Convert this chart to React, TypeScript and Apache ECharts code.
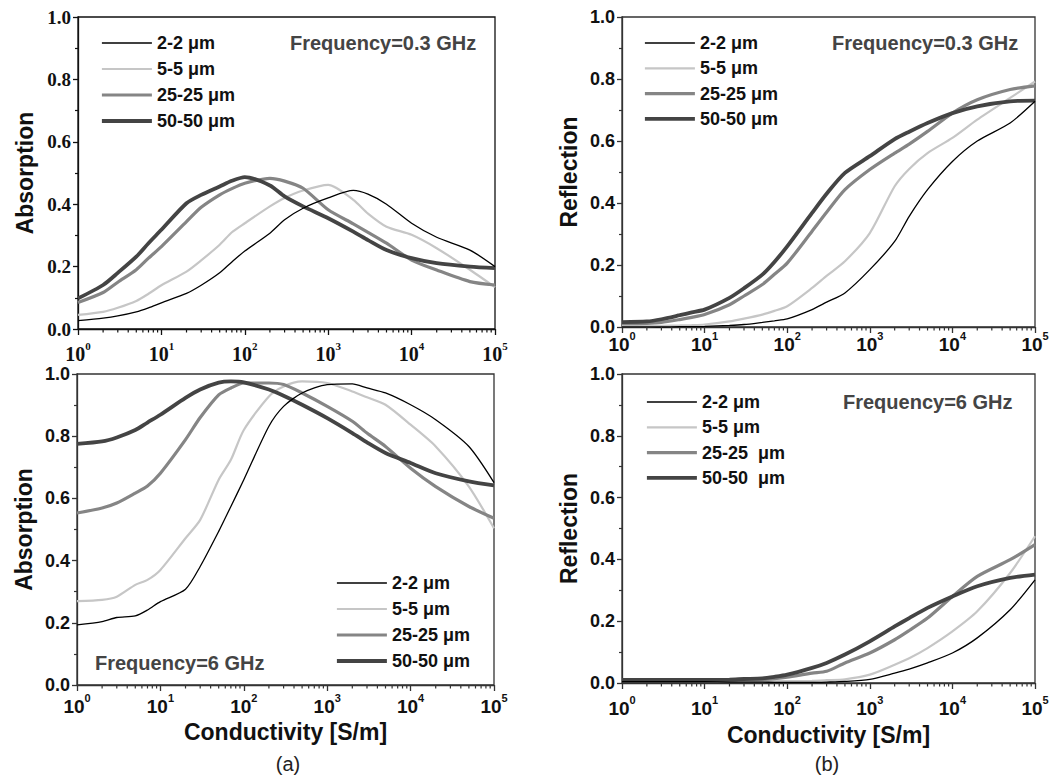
import React, { useEffect, useRef } from "react";
import * as echarts from "echarts";

// Conductivity sample points [S/m]
const X = [1, 2, 3, 5, 7, 10, 20, 30, 50, 70, 100, 200, 300, 500, 1000, 2000, 3000, 5000, 10000, 20000, 50000, 100000];

// Minor tick positions on the log axis
const MINOR_TICKS = [
  2, 3, 4, 5, 6, 7, 8, 9,
  20, 30, 40, 50, 60, 70, 80, 90,
  200, 300, 400, 500, 600, 700, 800, 900,
  2000, 3000, 4000, 5000, 6000, 7000, 8000, 9000,
  20000, 30000, 40000, 50000, 60000, 70000, 80000, 90000,
];

const NAMES = ["2-2 μm", "5-5 μm", "25-25 μm", "50-50 μm"];
const NAMES_BR = ["2-2 μm", "5-5 μm", "25-25  μm", "50-50  μm"];

// (a) top: Absorption, 0.3 GHz
const absA_2 = [0.027, 0.035, 0.042, 0.055, 0.068, 0.084, 0.114, 0.14, 0.18, 0.215, 0.25, 0.307, 0.35, 0.387, 0.42, 0.444, 0.432, 0.4, 0.339, 0.294, 0.253, 0.2];
const absA_5 = [0.045, 0.055, 0.068, 0.09, 0.113, 0.14, 0.184, 0.22, 0.27, 0.31, 0.339, 0.393, 0.42, 0.444, 0.462, 0.414, 0.37, 0.328, 0.302, 0.259, 0.19, 0.134];
const absA_25 = [0.085, 0.117, 0.15, 0.19, 0.227, 0.264, 0.344, 0.39, 0.43, 0.45, 0.467, 0.483, 0.474, 0.451, 0.382, 0.337, 0.31, 0.275, 0.221, 0.189, 0.152, 0.141];
const absA_50 = [0.098, 0.141, 0.18, 0.232, 0.275, 0.318, 0.403, 0.43, 0.457, 0.475, 0.487, 0.46, 0.425, 0.393, 0.355, 0.312, 0.285, 0.253, 0.227, 0.211, 0.2, 0.195];

// (b) top: Reflection, 0.3 GHz
const refA_2 = [0.0, 0.0, 0.0, 0.001, 0.001, 0.002, 0.005, 0.008, 0.015, 0.02, 0.026, 0.056, 0.08, 0.11, 0.185, 0.276, 0.357, 0.443, 0.534, 0.6, 0.658, 0.728];
const refA_5 = [0.003, 0.003, 0.004, 0.005, 0.006, 0.008, 0.018, 0.027, 0.04, 0.052, 0.067, 0.126, 0.165, 0.212, 0.303, 0.454, 0.51, 0.561, 0.61, 0.669, 0.739, 0.792];
const refA_25 = [0.011, 0.012, 0.015, 0.024, 0.031, 0.04, 0.072, 0.1, 0.137, 0.17, 0.206, 0.309, 0.37, 0.443, 0.508, 0.561, 0.59, 0.631, 0.69, 0.733, 0.766, 0.778];
const refA_50 = [0.016, 0.018, 0.025, 0.038, 0.047, 0.056, 0.094, 0.125, 0.169, 0.21, 0.26, 0.368, 0.43, 0.497, 0.551, 0.606, 0.63, 0.658, 0.69, 0.712, 0.728, 0.73];

// (a) bottom: Absorption, 6 GHz
const absB_2 = [0.193, 0.204, 0.217, 0.222, 0.241, 0.268, 0.308, 0.381, 0.494, 0.574, 0.66, 0.832, 0.896, 0.939, 0.966, 0.968, 0.955, 0.939, 0.901, 0.853, 0.767, 0.651];
const absB_5 = [0.27, 0.274, 0.284, 0.322, 0.338, 0.37, 0.472, 0.531, 0.66, 0.724, 0.82, 0.928, 0.96, 0.976, 0.971, 0.944, 0.925, 0.901, 0.837, 0.767, 0.638, 0.504];
const absB_25 = [0.553, 0.569, 0.585, 0.617, 0.64, 0.681, 0.789, 0.86, 0.933, 0.955, 0.971, 0.971, 0.966, 0.939, 0.896, 0.848, 0.81, 0.767, 0.697, 0.638, 0.574, 0.536];
const absB_50 = [0.775, 0.783, 0.796, 0.82, 0.844, 0.869, 0.923, 0.95, 0.972, 0.976, 0.973, 0.95, 0.93, 0.901, 0.858, 0.81, 0.78, 0.746, 0.714, 0.681, 0.655, 0.642];

// (b) bottom: Reflection, 6 GHz
const refB_2 = [0.004, 0.004, 0.004, 0.004, 0.004, 0.004, 0.003, 0.003, 0.003, 0.002, 0.002, 0.002, 0.003, 0.005, 0.012, 0.032, 0.045, 0.065, 0.097, 0.146, 0.237, 0.334];
const refB_5 = [0.006, 0.006, 0.006, 0.006, 0.006, 0.006, 0.006, 0.006, 0.006, 0.006, 0.006, 0.007, 0.009, 0.012, 0.027, 0.059, 0.08, 0.113, 0.167, 0.232, 0.356, 0.475];
const refB_25 = [0.009, 0.009, 0.009, 0.009, 0.009, 0.008, 0.009, 0.01, 0.011, 0.014, 0.019, 0.032, 0.038, 0.065, 0.097, 0.14, 0.17, 0.21, 0.28, 0.345, 0.399, 0.448];
const refB_50 = [0.01, 0.01, 0.01, 0.01, 0.01, 0.01, 0.011, 0.013, 0.015, 0.02, 0.027, 0.049, 0.065, 0.092, 0.135, 0.183, 0.21, 0.243, 0.28, 0.313, 0.34, 0.351];

const Y_TICKS = [0, 0.2, 0.4, 0.6, 0.8, 1.0];

const COLORS = ["#000000", "#c6c6c6", "#858585", "#444444"];
const WIDTHS = [1.3, 2.2, 3.2, 3.8];

const SANS = "'Liberation Sans', Arial, sans-serif";
const SERIF = "'Liberation Serif', 'Times New Roman', serif";

export default function App() {
  const ref = useRef<HTMLDivElement>(null);

  useEffect(() => {
    if (!ref.current) return;
    const chart = echarts.init(ref.current, undefined, { renderer: "svg" });

    const grids = [
      { left: 78, top: 17, width: 417, height: 312 },
      { left: 622, top: 17, width: 413, height: 310 },
      { left: 77, top: 374, width: 417, height: 311 },
      { left: 622, top: 374, width: 413, height: 309 },
    ];
    const panelData = [
      [absA_2, absA_5, absA_25, absA_50],
      [refA_2, refA_5, refA_25, refA_50],
      [absB_2, absB_5, absB_25, absB_50],
      [refB_2, refB_5, refB_25, refB_50],
    ];
    const panelNames = [NAMES, NAMES, NAMES, NAMES_BR];
    const yNames = ["Absorption", "Reflection", "Absorption", "Reflection"];
    const xNames = ["", "", "Conductivity [S/m]", "Conductivity [S/m]"];
    const yNameGaps = [42, 42, 42, 42];
    const xNameGaps = [0, 0, 35, 40];
    const xLabelMargins = [11, 3, 7, 11];
    const serifTicks = [true, false, false, false];
    const axisColor = ["#111", "#333", "#333", "#333"];

    const xAxis: any[] = [];
    const yAxis: any[] = [];
    const series: any[] = [];

    grids.forEach((g, i) => {
      const fam = serifTicks[i] ? SERIF : SANS;
      const fs = serifTicks[i] ? 19 : 18;
      xAxis.push({
        type: "log",
        logBase: 10,
        gridIndex: i,
        min: 1,
        max: 100000,
        name: xNames[i],
        nameLocation: "middle",
        nameGap: xNameGaps[i],
        nameMoveOverlap: false,
        nameTextStyle: { fontFamily: SANS, fontWeight: "bold", fontSize: 23, color: "#111" },
        axisLine: { onZero: false, lineStyle: { color: axisColor[i], width: 1.3 } },
        axisTick: { show: true, inside: false, length: 6, lineStyle: { color: axisColor[i], width: 1.3 } },
        splitLine: { show: false },
        axisLabel: {
          margin: xLabelMargins[i],
          formatter: (v: number) => `{b|10}{s|${Math.round(Math.log10(v))}}`,
          rich: {
            b: { fontFamily: fam, fontWeight: "bold", fontSize: fs + 1, color: "#111", lineHeight: 24, verticalAlign: "bottom" },
            s: { fontFamily: fam, fontWeight: "bold", fontSize: 11, color: "#111", lineHeight: 10, verticalAlign: "top" },
          },
        },
      });
      yAxis.push({
        type: "value",
        gridIndex: i,
        min: 0,
        max: 1,
        interval: 0.2,
        name: yNames[i],
        nameLocation: "middle",
        nameGap: yNameGaps[i],
        nameMoveOverlap: false,
        nameTextStyle: { fontFamily: SANS, fontWeight: "bold", fontSize: 23, color: "#111" },
        axisLine: { show: true, onZero: false, lineStyle: { color: axisColor[i], width: 1.3 } },
        axisTick: { show: true, inside: false, length: 5, lineStyle: { color: axisColor[i], width: 1.3 } },
        minorTick: { show: true, splitNumber: 2, length: 3, lineStyle: { color: axisColor[i], width: 1.2 } },
        splitLine: { show: false },
        axisLabel: {
          margin: 7,
          fontFamily: fam,
          fontWeight: "bold",
          fontSize: fs,
          color: "#111",
          formatter: (v: number) => (Y_TICKS.some((t) => Math.abs(t - v) < 1e-9) ? v.toFixed(1) : ""),
        },
      });

      panelData[i].forEach((vals, k) => {
        series.push({
          type: "line",
          name: panelNames[i][k],
          xAxisIndex: i,
          yAxisIndex: i,
          data: X.map((x, j) => [x, vals[j]]),
          showSymbol: false,
          symbol: "none",
          smooth: 0.25,
          lineStyle: { color: COLORS[k], width: WIDTHS[k] },
          itemStyle: { color: COLORS[k] },
          z: 3 + (k === 0 ? 4 : k),
        });
      });

      series.push({
        type: "custom",
        xAxisIndex: i,
        yAxisIndex: i,
        silent: true,
        clip: false,
        data: MINOR_TICKS.map((t) => [t, 0]),
        renderItem: (params: any, api: any) => {
          const p = api.coord([api.value(0), 0]);
          return {
            type: "line",
            shape: { x1: p[0], y1: p[1], x2: p[0], y2: p[1] + 3.5 },
            style: { stroke: axisColor[i], lineWidth: 1.2 },
          };
        },
        z: 10,
      });
    });

    const legendData = (names: string[]) =>
      names.map((n, k) => ({
        name: n,
        itemStyle: { opacity: 0 },
        lineStyle: { width: WIDTHS[k], color: COLORS[k] },
      }));

    const legendBase = {
      orient: "vertical",
      padding: 0,
      itemWidth: 50,
      itemHeight: 14,
      textStyle: { fontFamily: SANS, fontWeight: "bold", fontSize: 18, color: "#111", lineHeight: 18 },
      selectedMode: false,
    };

    const option: any = {
      animation: false,
      backgroundColor: "#ffffff",
      grid: grids.map((g, i) => ({ ...g, show: true, borderColor: axisColor[i], borderWidth: 1.3, backgroundColor: "transparent" })),
      xAxis,
      yAxis,
      series,
      legend: [
        { ...legendBase, left: 100, top: 34, itemGap: 8, data: legendData(NAMES) },
        { ...legendBase, left: 643, top: 34, itemGap: 7.3, data: legendData(NAMES) },
        { ...legendBase, left: 335, top: 574, itemGap: 8, data: legendData(NAMES) },
        { ...legendBase, left: 645, top: 393, itemGap: 7.3, data: legendData(NAMES_BR) },
      ],
      graphic: [
        { type: "text", left: 290, top: 33, style: { text: "Frequency=0.3 GHz", font: `bold 20px ${SANS}`, fill: "#444" } },
        { type: "text", left: 832, top: 33, style: { text: "Frequency=0.3 GHz", font: `bold 20px ${SANS}`, fill: "#444" } },
        { type: "text", left: 95, top: 653, style: { text: "Frequency=6 GHz", font: `bold 20px ${SANS}`, fill: "#444" } },
        { type: "text", left: 843, top: 392, style: { text: "Frequency=6 GHz", font: `bold 20px ${SANS}`, fill: "#444" } },
        { type: "text", x: 288, y: 764, style: { text: "(a)", font: `20px ${SANS}`, fill: "#222", align: "center", verticalAlign: "middle" } },
        { type: "text", x: 827, y: 764, style: { text: "(b)", font: `20px ${SANS}`, fill: "#222", align: "center", verticalAlign: "middle" } },
      ],
    };

    chart.setOption(option);
    return () => chart.dispose();
  }, []);

  return (
    <div
      ref={ref}
      style={{ position: "absolute", left: 0, top: 0, width: 1063, height: 778, background: "#fff" }}
    />
  );
}
